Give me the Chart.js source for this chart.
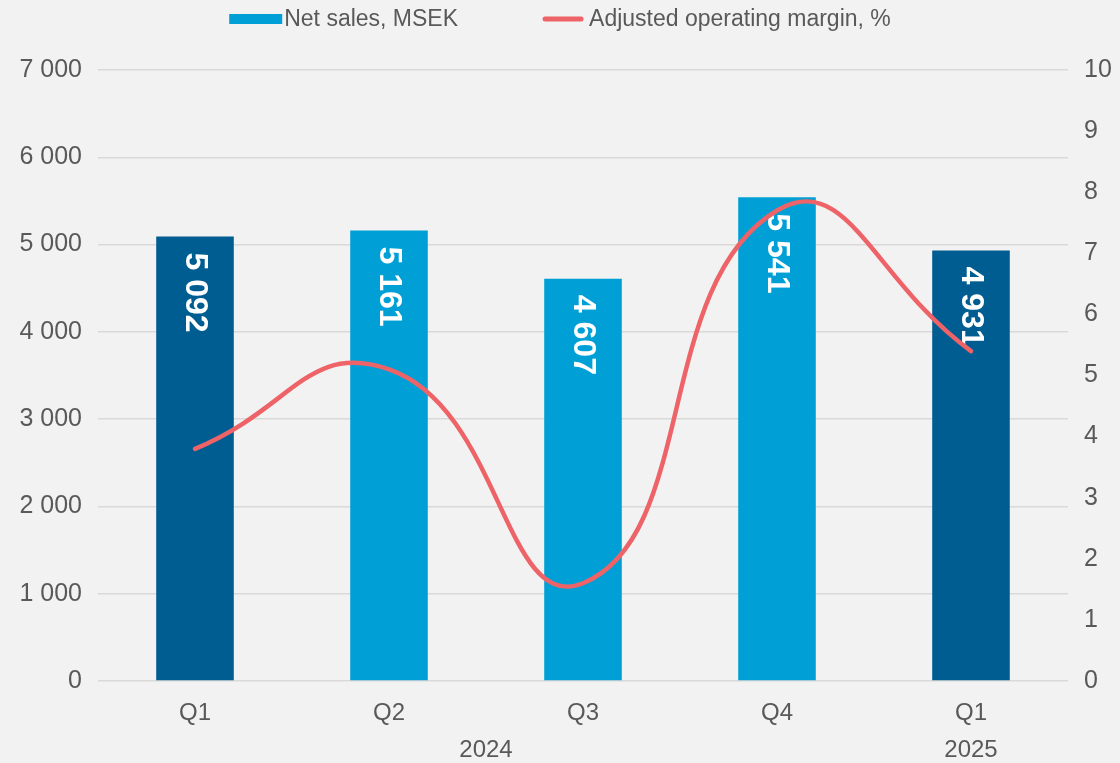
<!DOCTYPE html>
<html>
<head>
<meta charset="utf-8">
<script src="https://cdn.jsdelivr.net/npm/chart.js@4"></script>
<style>
  html, body { margin: 0; padding: 0; background: #f2f2f2; }
  #wrap { width: 1120px; height: 763px; }
</style>
</head>
<body>
<div id="wrap"><canvas id="chart"></canvas></div>
<script>
// data
const quarters = ["Q1", "Q2", "Q3", "Q4", "Q1"];
const years = [
  { label: "2024", from: 0, to: 3 },
  { label: "2025", from: 4, to: 4 }
];
const netSales = [5092, 5161, 4607, 5541, 4931];
const adjMargin = [3.8, 5.1, 1.6, 7.7, 5.4];
const barColors = ["#005d91", "#00a0d6", "#00a0d6", "#00a0d6", "#005d91"];

const grey = "#595959";
const lightBlue = "#00a0d6";
const red = "#ee6367";
const fontFam = "'Liberation Sans', Arial, sans-serif";

function fmtThousands(v) {
  return String(v).replace(/\B(?=(\d{3})+(?!\d))/g, " ");
}

// white rotated labels inside bars, drawn before the line
const barLabels = {
  id: "barLabels",
  afterDatasetDraw(chart, args) {
    if (args.index !== 0) return;
    const ctx = chart.ctx;
    ctx.save();
    ctx.fillStyle = "#ffffff";
    ctx.font = "bold 32px " + fontFam;
    ctx.textAlign = "left";
    ctx.textBaseline = "middle";
    args.meta.data.forEach((bar, i) => {
      ctx.save();
      ctx.translate(bar.x, bar.y + 16);
      ctx.rotate(Math.PI / 2);
      ctx.fillText(fmtThousands(netSales[i]), 0, 0);
      ctx.restore();
    });
    ctx.restore();
  }
};

// year row under the quarter labels + legend on top
const extras = {
  id: "extras",
  afterDraw(chart) {
    const x = chart.scales.x;
    const ctx = chart.ctx;
    ctx.save();
    ctx.fillStyle = grey;
    ctx.font = "24px " + fontFam;
    ctx.textAlign = "center";
    ctx.textBaseline = "middle";
    years.forEach(y => {
      const cx = (x.getPixelForValue(y.from) + x.getPixelForValue(y.to)) / 2;
      ctx.fillText(y.label, cx, 750);
    });

    // legend
    ctx.font = "23px " + fontFam;
    const ds = chart.data.datasets;
    const t1 = ds[0].label, t2 = ds[1].label;
    const w1 = ctx.measureText(t1).width, w2 = ctx.measureText(t2).width;
    const boxW = 53, lineW = 42, gap = 2, itemGap = 84;
    const total = boxW + gap + w1 + itemGap + lineW + gap + 3 + w2;
    let lx = chart.width / 2 - total / 2;
    const ly = 19;
    ctx.fillStyle = lightBlue;
    ctx.fillRect(lx, ly - 5, boxW, 10);
    lx += boxW + gap;
    ctx.fillStyle = grey;
    ctx.textAlign = "left";
    ctx.fillText(t1, lx, ly + 1);
    lx += w1 + itemGap;
    ctx.strokeStyle = red;
    ctx.lineWidth = 5;
    ctx.lineCap = "round";
    ctx.beginPath();
    ctx.moveTo(lx + 3, ly);
    ctx.lineTo(lx + lineW - 3, ly);
    ctx.stroke();
    lx += lineW + gap + 3;
    ctx.fillText(t2, lx, ly + 1);
    ctx.restore();
  }
};

new Chart(document.getElementById("chart").getContext("2d"), {
  data: {
    labels: quarters,
    datasets: [
      {
        type: "bar",
        label: "Net sales, MSEK",
        data: netSales,
        backgroundColor: barColors,
        yAxisID: "y",
        order: 1,
        barPercentage: 0.4,
        categoryPercentage: 1
      },
      {
        type: "line",
        label: "Adjusted operating margin, %",
        data: adjMargin,
        borderColor: red,
        backgroundColor: red,
        borderWidth: 4.5,
        borderCapStyle: "round",
        pointRadius: 0,
        tension: 0.5,
        yAxisID: "y1",
        order: 0
      }
    ]
  },
  options: {
    responsive: true,
    maintainAspectRatio: false,
    animation: false,
    layout: { padding: { top: 70, bottom: 0, left: 0, right: 0 } },
    plugins: {
      legend: { display: false },
      tooltip: { enabled: false }
    },
    scales: {
      x: {
        grid: { display: false },
        border: { display: false },
        ticks: { color: grey, font: { size: 24, family: fontFam }, padding: 10 },
        afterFit(scale) { scale.height = 82; }
      },
      y: {
        position: "left",
        min: 0,
        max: 7000,
        ticks: {
          stepSize: 1000,
          color: grey,
          font: { size: 25, family: fontFam },
          padding: 16,
          callback: v => fmtThousands(v)
        },
        grid: { color: "#d9d9d9", lineWidth: 1.5, drawTicks: false },
        border: { display: false },
        afterFit(scale) { scale.width = 98; }
      },
      y1: {
        position: "right",
        min: 0,
        max: 10,
        ticks: {
          stepSize: 1,
          color: grey,
          font: { size: 25, family: fontFam },
          padding: 16
        },
        grid: { display: false, drawTicks: false },
        border: { display: false },
        afterFit(scale) { scale.width = 52; }
      }
    }
  },
  plugins: [barLabels, extras]
});
</script>
</body>
</html>
